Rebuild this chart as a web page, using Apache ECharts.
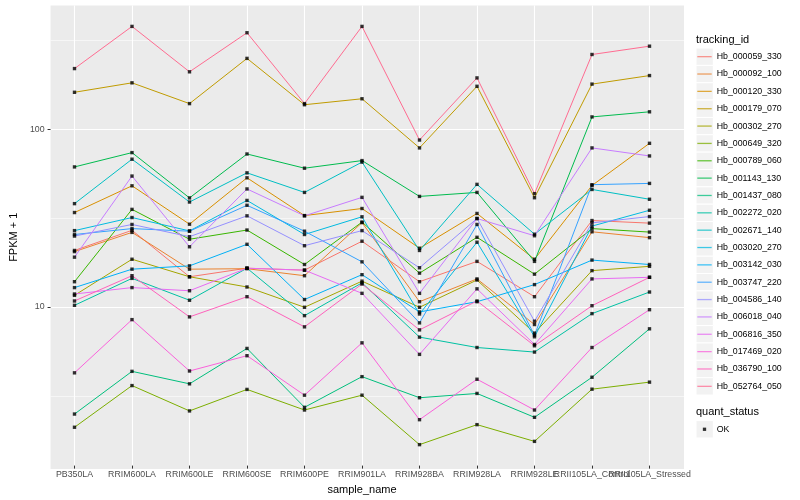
<!DOCTYPE html>
<html><head><meta charset="utf-8">
<script src="https://cdn.jsdelivr.net/npm/echarts@6/dist/echarts.min.js"></script>
<style>html,body{margin:0;padding:0;background:#fff}#c{width:800px;height:500px}</style>
</head><body><div id="c"></div>
<script>
// ---------- data ----------
const samples = ['PB350LA','RRIM600LA','RRIM600LE','RRIM600SE','RRIM600PE','RRIM901LA','RRIM928BA','RRIM928LA','RRIM928LE','RRII105LA_Control','RRII105LA_Stressed'];
const trackingIds = ['Hb_000059_330','Hb_000092_100','Hb_000120_330','Hb_000179_070','Hb_000302_270','Hb_000649_320','Hb_000789_060','Hb_001143_130','Hb_001437_080','Hb_002272_020','Hb_002671_140','Hb_003020_270','Hb_003142_030','Hb_003747_220','Hb_004586_140','Hb_006018_040','Hb_006816_350','Hb_017469_020','Hb_036790_100','Hb_052764_050'];
const colors = ['#F8766D','#EA8331','#D89000','#C09B00','#A3A500','#7CAE00','#39B600','#00BB4E','#00BF7D','#00C1A3','#00BFC4','#00BAE0','#00B0F6','#35A2FF','#9590FF','#C77CFF','#E76BF3','#FA62DB','#FF62BC','#FF6C91'];

// FPKM + 1 per sample (same order as samples)
const Hb_000059_330 = [20.3, 26.4, 14.4, 16.1, 15.7, 22.9, 13.5, 17.6, 11.1, 30.0, 29.0];
const Hb_000092_100 = [20.0, 25.7, 15.9, 16.0, 14.6, 29.2, 10.4, 14.0, 7.72, 25.9, 24.0];
const Hb_000120_330 = [33.3, 47.2, 28.6, 52.4, 32.0, 35.1, 20.9, 32.9, 18.1, 47.4, 82.2];
const Hb_000179_070 = [160, 181, 138, 249, 136, 147, 77.4, 173, 40.4, 178, 199];
const Hb_000302_270 = [11.3, 18.1, 14.4, 12.6, 9.67, 13.6, 9.67, 13.8, 6.90, 15.6, 16.5];
const Hb_000649_320 = [2.02, 3.48, 2.50, 3.31, 2.53, 3.07, 1.61, 2.09, 1.68, 3.32, 3.64];
const Hb_000789_060 = [13.5, 34.7, 23.5, 26.5, 16.9, 29.4, 15.1, 24.1, 14.9, 27.0, 25.8];
const Hb_001143_130 = [60.4, 72.8, 40.3, 71.5, 59.4, 65.6, 41.1, 43.3, 17.6, 116, 124];
const Hb_001437_080 = [2.40, 4.19, 3.56, 5.65, 2.62, 3.91, 2.97, 3.14, 2.30, 3.88, 7.30];
const Hb_002272_020 = [9.92, 14.1, 10.6, 16.1, 8.67, 13.3, 6.55, 5.72, 5.39, 8.90, 11.8];
const Hb_002671_140 = [37.4, 66.8, 38.2, 55.9, 43.3, 64.3, 20.3, 48.1, 25.1, 45.0, 39.6];
const Hb_003020_270 = [26.3, 31.2, 26.2, 39.0, 25.0, 31.5, 8.86, 22.6, 6.58, 27.9, 34.3];
const Hb_003142_030 = [12.5, 15.9, 16.6, 22.0, 10.7, 14.8, 9.10, 10.4, 13.0, 17.9, 16.9];
const Hb_003747_220 = [25.0, 27.0, 26.1, 36.6, 26.1, 17.5, 7.89, 28.5, 6.72, 47.9, 48.7];
const Hb_004586_140 = [24.5, 28.5, 24.3, 31.9, 21.6, 26.3, 16.2, 30.8, 8.06, 29.1, 31.6];
const Hb_006018_040 = [18.6, 53.6, 21.3, 45.3, 31.9, 40.6, 11.6, 30.8, 24.6, 77.4, 69.7];
const Hb_006816_350 = [11.5, 12.5, 12.0, 16.1, 15.7, 11.6, 5.23, 12.3, 5.95, 14.0, 14.3];
const Hb_017469_020 = [4.11, 8.23, 4.21, 5.14, 3.07, 6.08, 2.23, 3.78, 2.53, 5.72, 9.37];
const Hb_036790_100 = [10.5, 14.6, 8.53, 11.1, 7.49, 13.1, 7.20, 10.5, 5.85, 9.87, 14.3];
const Hb_052764_050 = [218, 378, 209, 348, 138, 378, 85.8, 193, 42.6, 262, 292];

const seriesValues = [Hb_000059_330, Hb_000092_100, Hb_000120_330, Hb_000179_070, Hb_000302_270,
  Hb_000649_320, Hb_000789_060, Hb_001143_130, Hb_001437_080, Hb_002272_020, Hb_002671_140,
  Hb_003020_270, Hb_003142_030, Hb_003747_220, Hb_004586_140, Hb_006018_040, Hb_006816_350,
  Hb_017469_020, Hb_036790_100, Hb_052764_050];

const yTickLabels = [10, 100];
const quantStatus = 'OK';

// ---------- layout ----------
const FONT = '"Liberation Sans", Arial, Helvetica, sans-serif';
const yLo = 1.2246, yHi = 496.6;           // panel extent (log axis)
const L = v => Math.log10(v);
const panel = {left: 40, right: 116, top: 5.5, bottom: 31};
const catStep = (800 - panel.left - panel.right) / (samples.length - 1 + 1.2);
const dataGrid = {left: panel.left + 0.6 * catStep, right: panel.right + 0.6 * catStep, top: panel.top, bottom: panel.bottom};

const chart = echarts.init(document.getElementById('c'), null, {renderer: 'canvas'});

const series = [];
seriesValues.forEach((vals, i) => {
  series.push({
    name: trackingIds[i], type: 'line', xAxisIndex: 1, yAxisIndex: 3,
    data: vals, symbol: 'none', showSymbol: false, silent: true, z: 2,
    lineStyle: {color: colors[i], width: 1}, itemStyle: {color: colors[i]}
  });
});
const pts = [];
seriesValues.forEach(vals => vals.forEach((v, j) => pts.push([samples[j], v])));
series.push({
  name: quantStatus, type: 'scatter', xAxisIndex: 1, yAxisIndex: 3, data: pts,
  symbol: 'rect', symbolSize: 3.4, itemStyle: {color: '#000'}, z: 3, silent: true
});

const graphics = [];
graphics.push({type: 'text', left: 696, top: 34.5, style: {text: 'tracking_id', font: '11px ' + FONT, fill: '#000'}});
const rowH = 17.35, firstRow = 56.7;
trackingIds.forEach((n, i) => {
  graphics.push({type: 'rect', shape: {x: 696, y: firstRow - rowH / 2 + rowH * i, width: rowH, height: rowH},
    style: {fill: '#F2F2F2', stroke: '#fff', lineWidth: 1}, z: -1});
});
graphics.push({type: 'text', left: 696, top: 406, style: {text: 'quant_status', font: '11px ' + FONT, fill: '#000'}});
graphics.push({type: 'rect', shape: {x: 696, y: 429.3 - rowH / 2, width: rowH, height: rowH},
  style: {fill: '#F2F2F2', stroke: '#fff', lineWidth: 1}, z: -1});

const yExt = {min: L(yLo), max: L(yHi)};

chart.setOption({
  animation: false,
  backgroundColor: '#fff',
  textStyle: {fontFamily: FONT},
  grid: [
    Object.assign({show: true, backgroundColor: '#EBEBEB', borderWidth: 0, z: -1}, panel),
    Object.assign({show: false}, dataGrid)
  ],
  xAxis: [
    {gridIndex: 0, type: 'value', show: false, min: 0, max: 1},
    {gridIndex: 1, type: 'category', data: samples, boundaryGap: false,
     axisLine: {show: false},
     axisTick: {show: true, interval: 0, length: 3, lineStyle: {color: '#333', width: 1}},
     axisLabel: {interval: 0, fontSize: 8.8, color: '#4D4D4D', margin: 4.5, fontFamily: FONT, hideOverlap: false},
     splitLine: {show: true, interval: 0, lineStyle: {color: '#fff', width: 1.1}},
     name: 'sample_name', nameLocation: 'middle', nameGap: 13,
     nameTextStyle: {fontSize: 11, color: '#000', fontFamily: FONT}}
  ],
  yAxis: [
    Object.assign({gridIndex: 0, type: 'value', position: 'right', splitNumber: 5, minInterval: 0.5, maxInterval: 0.5,
      axisLine: {show: false}, axisTick: {show: false}, axisLabel: {show: false},
      splitLine: {show: true, showMinLine: false, showMaxLine: false, lineStyle: {color: '#fff', width: 0.55}}}, yExt),
    Object.assign({gridIndex: 0, type: 'value', position: 'right', splitNumber: 2, minInterval: 1, maxInterval: 1,
      axisLine: {show: false}, axisTick: {show: false}, axisLabel: {show: false},
      splitLine: {show: true, showMinLine: false, showMaxLine: false, lineStyle: {color: '#fff', width: 1.1}}}, yExt),
    Object.assign({gridIndex: 0, type: 'value', position: 'left',
      axisLine: {show: false},
      axisTick: {show: true, customValues: yTickLabels.map(L), length: 3, lineStyle: {color: '#333', width: 1}},
      axisLabel: {customValues: yTickLabels.map(L), formatter: v => String(Math.round(Math.pow(10, v))),
        fontSize: 8.8, color: '#4D4D4D', margin: 6, fontFamily: FONT},
      splitLine: {show: false},
      name: 'FPKM + 1', nameLocation: 'middle', nameGap: 21,
      nameTextStyle: {fontSize: 11, color: '#000', fontFamily: FONT}}, yExt),
    {gridIndex: 1, type: 'log', min: yLo, max: yHi, show: false, splitLine: {show: false}}
  ],
  legend: [
    {data: trackingIds.map((n, i) => ({name: n, itemStyle: {color: colors[i], opacity: 0.75}})),
     orient: 'vertical', left: 697.3, top: 48, padding: 0, itemGap: 0,
     icon: 'rect', itemWidth: 14.4, itemHeight: 1.3, selectedMode: false,
     textStyle: {fontSize: 8.8, color: '#000', fontFamily: FONT, lineHeight: rowH}},
    {data: [{name: quantStatus, itemStyle: {color: '#000'}}], orient: 'vertical', left: 697.3, top: 420.6, padding: 0, itemGap: 0,
     icon: 'path://M0,0L0,0M14.4,3.3L14.4,3.3M5.55,0L8.85,0L8.85,3.3L5.55,3.3Z', itemWidth: 14.4, itemHeight: 3.3, selectedMode: false,
     textStyle: {fontSize: 8.8, color: '#000', fontFamily: FONT, lineHeight: rowH}}
  ],
  graphic: graphics,
  series: series
});
</script>
</body></html>
